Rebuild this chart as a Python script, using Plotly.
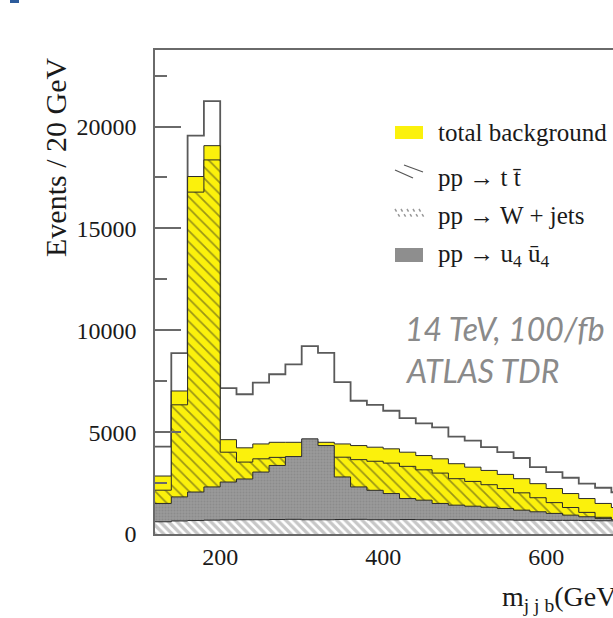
import plotly.graph_objects as go

# ---- data ----
bin_lo = [120, 140, 160, 180, 200, 220, 240, 260, 280, 300, 320, 340, 360, 380, 400,
          420, 440, 460, 480, 500, 520, 540, 560, 580, 600, 620, 640, 660, 680]
bin_width = 20
total = [4290, 8880, 19550, 21250, 7155, 6860, 7430, 7840, 8325, 9220, 8890, 7450, 6540, 6340, 6050,
         5690, 5430, 5235, 4780, 4585, 4260, 4015, 3730, 3280, 3040, 2760, 2470, 2270, 2050]
total_bkg = [2845, 7020, 17545, 19060, 4630, 4230, 4420, 4500, 4500, 4550, 4500, 4420, 4340, 4260, 4180,
             4015, 3850, 3690, 3450, 3280, 3120, 2925, 2715, 2470, 2230, 1985, 1740, 1500, 1300]
ttbar = [2150, 6340, 16780, 18360, 4015, 3530, 3690, 3760, 3750, 3850, 3800, 3770, 3650, 3570, 3480,
         3320, 3150, 2990, 2715, 2580, 2420, 2230, 2020, 1780, 1540, 1300, 1060, 820, 620]
signal = [1500, 1820, 2060, 2310, 2550, 2700, 3040, 3365, 3800, 4670, 4340, 2800, 2310, 2145, 1985,
          1740, 1660, 1500, 1415, 1365, 1315, 1250, 1170, 1090, 1010, 925, 845, 765, 700]
wjets = [600, 640, 660, 680, 690, 700, 700, 710, 720, 700, 700, 710, 720, 700, 700,
         710, 700, 690, 700, 700, 690, 690, 680, 680, 670, 670, 660, 650, 640]

y_ticks = [0, 5000, 10000, 15000, 20000]
y_ticktext = ["0", "5000", "10000", "15000", "20000"]
x_ticks = [200, 400, 600]
x_ticktext = ["200", "400", "600"]
legend_labels = ["total background", "pp \u2192 t t\u0304", "pp \u2192 W + jets",
                 "pp \u2192 u<sub>4</sub> u\u0304<sub>4</sub>"]
note_lines = ["14 TeV, 100/fb", "ATLAS TDR"]

# ---- layout geometry (pixels) ----
W, H = 613, 618
L, T, B = 155, 50, 84
PW, PH = W - L, H - T - B
YELLOW = "#fbf10c"
SERIF = "Liberation Serif, Times New Roman, serif"


def px(x):
    return (x - L) / PW


def py(y):
    return (T + PH - y) / PH


edges = bin_lo + [bin_lo[-1] + bin_width]


def step(vals):
    return vals + [vals[-1]]


fig = go.Figure()


def add_hist(vals, name, fillcolor, linecolor, lw, pattern=None):
    kw = {}
    if pattern is not None:
        kw["fillpattern"] = pattern
    fig.add_trace(go.Scatter(
        x=edges, y=step(vals), mode="lines", line_shape="hv",
        line=dict(color=linecolor, width=lw), fill="tozeroy",
        fillcolor=fillcolor, name=name, showlegend=False, hoverinfo="skip", **kw))


add_hist(total, "total", "white", "#5a5a5a", 1.8)
add_hist(total_bkg, "total background", YELLOW, "#2a2a2a", 1.0)
add_hist(ttbar, "ttbar", YELLOW, "#2a2a2a", 1.0,
         dict(shape="\\", fgcolor="#3a3a20", bgcolor=YELLOW, size=8, solidity=0.22))
add_hist(signal, "signal", "#939393", "#2a2a2a", 1.0,
         dict(shape=".", fgcolor="#7c7c7c", bgcolor="#9a9a9a", size=3, solidity=0.4))
add_hist(wjets, "wjets", "white", "#2a2a2a", 1.0,
         dict(shape="\\", fgcolor="#909090", bgcolor="white", size=6, solidity=0.55))

shapes = []
annotations = []

# legend icons
shapes.append(dict(type="rect", xref="paper", yref="paper", x0=px(395), x1=px(423),
                   y0=py(139), y1=py(126), fillcolor=YELLOW, line=dict(width=0)))
for (x0, y0, x1, y1) in [(395, 170, 413, 178), (404, 165, 423, 172)]:
    shapes.append(dict(type="line", xref="paper", yref="paper", x0=px(x0), y0=py(y0),
                       x1=px(x1), y1=py(y1), line=dict(color="#555", width=1.2)))
for i in range(5):
    xs = 395 + i * 6
    shapes.append(dict(type="line", xref="paper", yref="paper", x0=px(xs), y0=py(209),
                       x1=px(xs + 6), y1=py(219), line=dict(color="#999", width=1.5, dash="dot")))
shapes.append(dict(type="rect", xref="paper", yref="paper", x0=px(395), x1=px(423),
                   y0=py(262), y1=py(248), fillcolor="#8e8e8e", line=dict(width=0)))

for lab, yc in zip(legend_labels, [132, 177, 215, 255]):
    annotations.append(dict(text=lab, xref="paper", yref="paper", x=px(436), y=py(yc),
                            xanchor="left", yanchor="middle", showarrow=False,
                            font=dict(family=SERIF, size=25, color="#1a1a1a")))

# note text
for lab, yc in zip(note_lines, [328, 370]):
    annotations.append(dict(text="<i>" + lab + "</i>", xref="paper", yref="paper", x=px(403), y=py(yc),
                            xanchor="left", yanchor="middle", showarrow=False,
                            font=dict(family="Lato, Open Sans, sans-serif", size=32, color="#8a8a8a")))

# axis titles
annotations.append(dict(text="Events / 20 GeV", xref="paper", yref="paper", x=px(55), y=py(158),
                        xanchor="center", yanchor="middle", textangle=-90, showarrow=False,
                        font=dict(family=SERIF, size=30, color="#1a1a1a")))
annotations.append(dict(text="m<sub>j j b</sub>(GeV)", xref="paper", yref="paper", x=px(500), y=py(598),
                        xanchor="left", yanchor="middle", showarrow=False,
                        font=dict(family=SERIF, size=28, color="#1a1a1a")))

# slide fragment at top-left
shapes.append(dict(type="rect", xref="paper", yref="paper", x0=px(10), x1=px(19),
                   y0=py(3), y1=py(-5), fillcolor="#2d5c9c", line=dict(width=0)))

fig.update_layout(
    width=W, height=H, autosize=False,
    margin=dict(l=L, r=0, t=T, b=B, pad=0, autoexpand=False),
    paper_bgcolor="white", plot_bgcolor="white",
    shapes=shapes, annotations=annotations, showlegend=False,
    xaxis=dict(range=[120, 682], tickvals=x_ticks, ticktext=x_ticktext, ticks="",
               showgrid=False, zeroline=False, automargin=False,
               showline=True, linecolor="#6a6a6a", linewidth=1.5, mirror=True,
               tickfont=dict(family=SERIF, size=24, color="#1a1a1a"), ticklabelstandoff=0),
    yaxis=dict(range=[0, 23755], tickvals=y_ticks, ticktext=y_ticktext, ticks="inside",
               ticklen=26, tickwidth=1.5, automargin=False,
               tickcolor="#6a6a6a", showgrid=False, zeroline=False,
               showline=True, linecolor="#6a6a6a", linewidth=1.5,
               minor=dict(ticks="inside", ticklen=12, tickwidth=1.5, tickcolor="#6a6a6a",
                          tickvals=[2500, 7500, 12500, 17500, 22500]),
               tickfont=dict(family=SERIF, size=24, color="#1a1a1a"), ticklabelstandoff=12),
)

fig.write_html("out.html", config={"displayModeBar": False},
               post_script="document.body.style.margin='0px';document.body.style.overflow='hidden';")
